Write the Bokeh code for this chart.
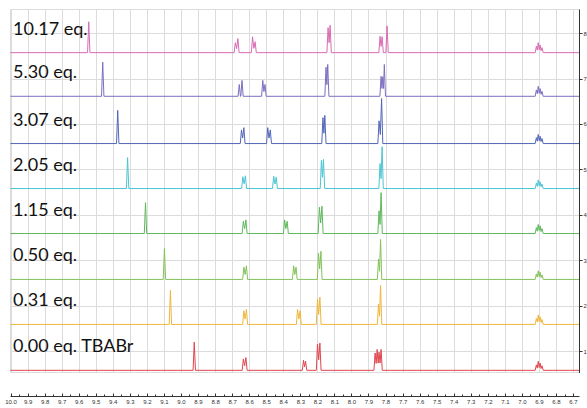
from bokeh.plotting import figure
from bokeh.layouts import column
from bokeh.models import Range1d, FixedTicker, PrintfTickFormatter
from bokeh.core.properties import value
from bokeh.embed import file_html
from bokeh.resources import INLINE

# ---------------- data ----------------
labels = ["0.00 eq. TBABr", "0.31 eq.", "0.50 eq.", "1.15 eq.",
          "2.05 eq.", "3.07 eq.", "5.30 eq.", "10.17 eq."]
colors = ["#e0454d", "#f0b63c", "#84c25a", "#5db85b",
          "#4cc4d4", "#5266b8", "#7b6fc0", "#d96ab2"]
baselines = [0.59, 1.60, 2.59, 3.60, 4.59, 5.58, 6.62, 7.58]

ppm_000 = [8.925, 8.637, 8.622, 8.284, 8.272, 8.202, 8.188, 7.864, 7.852, 7.841, 7.829, 6.918, 6.907, 6.896, 6.885]
h_000 = [0.62, 0.25, 0.28, 0.22, 0.20, 0.58, 0.60, 0.38, 0.46, 0.40, 0.46, 0.12, 0.20, 0.16, 0.10]

ppm_031 = [9.065, 8.634, 8.619, 8.319, 8.304, 8.202, 8.188, 7.844, 7.832, 6.918, 6.907, 6.896, 6.885]
h_031 = [0.75, 0.30, 0.33, 0.33, 0.30, 0.55, 0.60, 0.45, 0.86, 0.13, 0.21, 0.17, 0.11]

ppm_050 = [9.100, 8.634, 8.619, 8.342, 8.328, 8.196, 8.182, 7.844, 7.832, 6.918, 6.907, 6.896, 6.885]
h_050 = [0.68, 0.27, 0.30, 0.30, 0.27, 0.58, 0.62, 0.45, 0.88, 0.12, 0.19, 0.16, 0.10]

ppm_115 = [9.211, 8.637, 8.622, 8.395, 8.380, 8.191, 8.176, 7.841, 7.829, 6.918, 6.907, 6.896, 6.885]
h_115 = [0.68, 0.27, 0.30, 0.30, 0.27, 0.58, 0.60, 0.50, 0.90, 0.13, 0.20, 0.17, 0.11]

ppm_205 = [9.316, 8.640, 8.625, 8.459, 8.444, 8.179, 8.167, 7.835, 7.823, 6.918, 6.907, 6.896, 6.885]
h_205 = [0.68, 0.26, 0.28, 0.27, 0.25, 0.62, 0.64, 0.55, 0.92, 0.12, 0.19, 0.15, 0.10]

ppm_307 = [9.374, 8.648, 8.634, 8.494, 8.479, 8.170, 8.159, 7.841, 7.826, 6.918, 6.907, 6.896, 6.885]
h_307 = [0.73, 0.30, 0.35, 0.35, 0.30, 0.57, 0.62, 0.50, 0.99, 0.13, 0.20, 0.16, 0.11]

ppm_530 = [9.462, 8.661, 8.645, 8.523, 8.510, 8.152, 8.142, 7.829, 7.819, 7.810, 6.918, 6.907, 6.896, 6.885]
h_530 = [0.75, 0.26, 0.35, 0.35, 0.26, 0.64, 0.70, 0.44, 0.43, 0.70, 0.14, 0.22, 0.17, 0.11]

ppm_1017 = [9.544, 8.684, 8.669, 8.583, 8.568, 8.140, 8.128, 7.835, 7.823, 7.794, 6.918, 6.907, 6.896, 6.885]
h_1017 = [0.68, 0.22, 0.31, 0.35, 0.24, 0.55, 0.60, 0.36, 0.35, 0.59, 0.14, 0.22, 0.17, 0.11]

spectra_ppm = [ppm_000, ppm_031, ppm_050, ppm_115, ppm_205, ppm_307, ppm_530, ppm_1017]
spectra_h = [h_000, h_031, h_050, h_115, h_205, h_307, h_530, h_1017]

x_ticks = [10.0, 9.9, 9.8, 9.7, 9.6, 9.5, 9.4, 9.3, 9.2, 9.1, 9.0, 8.9, 8.8, 8.7,
           8.6, 8.5, 8.4, 8.3, 8.2, 8.1, 8.0, 7.9, 7.8, 7.7, 7.6, 7.5, 7.4, 7.3,
           7.2, 7.1, 7.0, 6.9, 6.8, 6.7]
y_ticks = [1, 2, 3, 4, 5, 6, 7, 8]

# ---------------- style ----------------
X_START, X_END = 10.003, 6.665
Y_START, Y_END = 0.52, 8.53
HW = 0.007  # half-width of a line at its foot (ppm)
GRID = "#dcdcdc"
DARK = "#333333"

def trace(ppms, hs, base):
    order = sorted(zip(ppms, hs), reverse=True)
    xs, ys = [X_START + 0.2], [base]
    prev = None
    for pk, h in order:
        if prev is not None and prev[0] - pk < 2.2 * HW:
            xs.append((prev[0] + pk) / 2)
            ys.append(base + 0.4 * min(prev[1], h))
        else:
            if prev is not None:
                xs.append(prev[0] - HW); ys.append(base)
            xs.append(pk + HW); ys.append(base)
        xs.append(pk); ys.append(base + h)
        prev = (pk, h)
    xs.append(prev[0] - HW); ys.append(base)
    xs.append(X_END - 0.2); ys.append(base)
    return xs, ys

xr = Range1d(start=X_START, end=X_END)

p = figure(frame_width=569, frame_height=364, x_range=xr,
           y_range=Range1d(start=Y_START, end=Y_END),
           y_axis_location="right", output_backend="svg",
           toolbar_location=None, min_border_left=10, min_border_top=9,
           min_border_bottom=0, min_border_right=2)
p.xaxis.visible = False
p.xgrid.ticker = FixedTicker(ticks=x_ticks)
p.xgrid.grid_line_color = GRID
p.ygrid.grid_line_color = GRID
p.outline_line_color = GRID
p.background_fill_color = "white"
p.border_fill_color = "white"

ya = p.yaxis[0]
ya.ticker = FixedTicker(ticks=y_ticks)
ya.axis_line_color = DARK
ya.major_tick_line_color = DARK
ya.major_tick_out = 3
ya.major_tick_in = 0
ya.minor_tick_line_color = None
ya.major_label_text_font_size = "6px"
ya.major_label_text_color = DARK
ya.major_label_standoff = 1
p.ygrid.ticker = FixedTicker(ticks=y_ticks)

for ppms, hs, base, col in zip(spectra_ppm, spectra_h, baselines, colors):
    xs, ys = trace(ppms, hs, base)
    p.line(xs, ys, line_color=col, line_width=1)

p.text(x=[9.988] * len(labels), y=[b + 0.55 for b in baselines], text=labels,
       text_font=value("Lato"), text_font_size="18px", text_baseline="middle",
       text_align="left", text_color="#111111")

# bottom axis strip (shares the x range and frame of the spectra)
b = figure(frame_width=569, frame_height=23, x_range=xr,
           y_range=Range1d(start=0, end=1), output_backend="svg",
           toolbar_location=None, min_border_left=10, min_border_top=0,
           min_border_bottom=0, min_border_right=8)
b.yaxis.visible = False
b.xgrid.visible = False
b.ygrid.visible = False
b.outline_line_color = None
xa = b.xaxis[0]
minor = [(a + c) / 2 for a, c in zip(x_ticks, x_ticks[1:])]
xa.ticker = FixedTicker(ticks=x_ticks, minor_ticks=minor)
xa.formatter = PrintfTickFormatter(format="%.1f")
xa.axis_line_color = DARK
xa.major_tick_line_color = DARK
xa.minor_tick_line_color = DARK
xa.major_tick_in = 3
xa.major_tick_out = 0
xa.minor_tick_in = 2
xa.minor_tick_out = 0
xa.major_label_text_font_size = "6px"
xa.major_label_text_color = DARK
xa.major_label_standoff = 3

layout = column(p, b, spacing=0)
open("out.html", "w").write(file_html(layout, INLINE))
